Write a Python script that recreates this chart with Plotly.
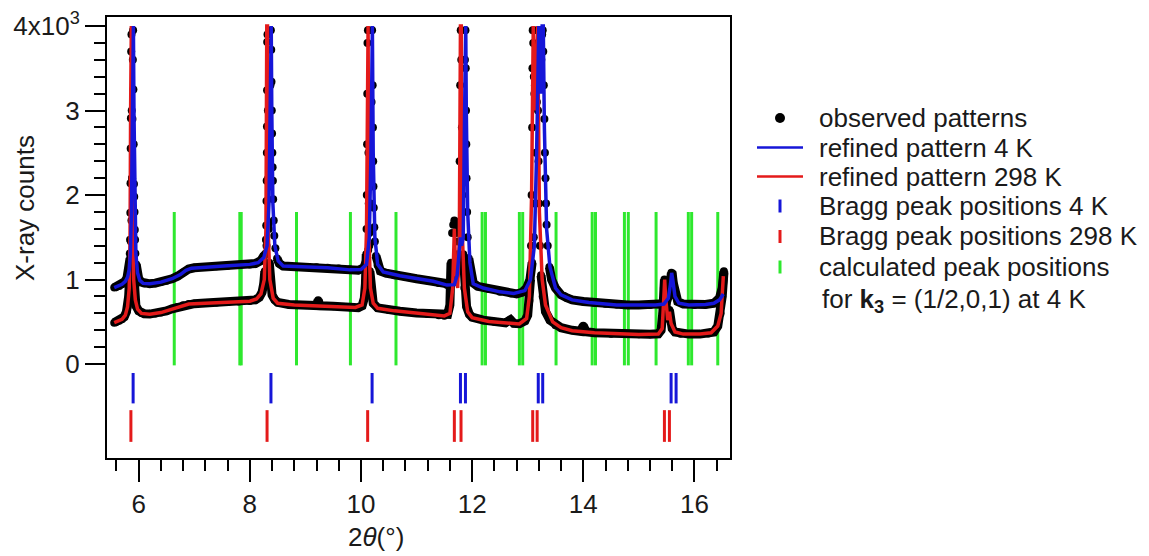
import plotly.graph_objects as go

# ---------------- data ----------------
# refined pattern, 4 K (blue)
ref4_x = [5.56, 5.62, 5.70, 5.76, 5.80, 5.83, 5.85, 5.87, 5.885, 5.895, 5.905, 5.915, 5.93, 5.95, 5.98, 6.02, 6.08,
          6.2, 6.4, 6.6, 6.75, 6.85, 6.95, 7.2, 7.6, 8.0, 8.15, 8.25, 8.31, 8.345, 8.365, 8.375, 8.385, 8.395,
          8.415, 8.45, 8.51, 8.6, 8.9, 9.4, 9.8, 10.0, 10.1, 10.15, 10.18, 10.195, 10.205, 10.22, 10.25, 10.3,
          10.4, 10.7, 11.0, 11.3, 11.55, 11.68, 11.73, 11.77, 11.79, 11.81, 11.84, 11.865, 11.875, 11.885,
          11.895, 11.92, 11.96, 12.02, 12.2, 12.5, 12.75, 12.95, 13.05, 13.12, 13.16, 13.185, 13.2, 13.23,
          13.26, 13.28, 13.30, 13.34, 13.40, 13.5, 13.6, 13.8, 14.1, 14.6, 15.0, 15.3, 15.45, 15.53, 15.57,
          15.59, 15.61, 15.65, 15.72, 15.9, 16.2, 16.35, 16.45, 16.52]
ref4_y = [905, 920, 945, 980, 1030, 1120, 1300, 1800, 3000, 4000, 4000, 3000, 1800, 1300, 1080, 990, 955,
          950, 970, 1010, 1060, 1110, 1135, 1150, 1165, 1180, 1200, 1260, 1400, 1900, 3000, 4000, 4000, 3000,
          1900, 1400, 1220, 1160, 1150, 1140, 1115, 1120, 1180, 1500, 2500, 4000, 4000, 2500, 1500, 1180,
          1090, 1045, 1010, 980, 935, 940, 1050, 1400, 1500, 1400, 1500, 3000, 4000, 4000,
          3000, 1800, 1200, 950, 900, 855, 835, 870, 1000, 1400, 2500, 4000, 4000, 3200,
          4000, 4000, 2800, 1600, 1150, 900, 820, 760, 730, 700, 695, 700, 710, 780, 950,
          1080, 1000, 800, 720, 700, 705, 720, 760, 830]

# refined pattern, 298 K (red)
ref298_x = [5.56, 5.62, 5.70, 5.76, 5.80, 5.83, 5.845, 5.855, 5.86, 5.868, 5.875, 5.89, 5.91, 5.94, 5.98, 6.05,
            6.2, 6.4, 6.6, 6.8, 6.9, 7.2, 7.6, 8.0, 8.12, 8.2, 8.26, 8.29, 8.305, 8.318, 8.33, 8.36, 8.42, 8.5,
            8.8, 9.2, 9.6, 9.9, 10.02, 10.07, 10.1, 10.115, 10.128, 10.14, 10.17, 10.22, 10.3, 10.6, 11.0, 11.3,
            11.5, 11.6, 11.65, 11.68, 11.70, 11.74, 11.77, 11.79, 11.805, 11.82, 11.86, 11.92, 12.0, 12.3, 12.6,
            12.85, 12.98, 13.03, 13.07, 13.085, 13.10, 13.13, 13.165, 13.18, 13.21, 13.26, 13.32, 13.45, 13.6,
            13.8, 14.2, 14.6, 15.0, 15.35, 15.42, 15.45, 15.465, 15.48, 15.52, 15.55, 15.58, 15.65, 15.8, 16.1,
            16.3, 16.42, 16.48, 16.52]
ref298_y = [490, 505, 530, 580, 680, 900, 1500, 3000, 4000, 4000, 3000, 1600, 1000, 760, 650, 600,
            590, 610, 650, 690, 710, 720, 735, 745, 770, 830, 1000, 1600, 4000, 4000, 1600, 1000, 780, 720,
            700, 690, 680, 670, 700, 900, 1600, 4000, 4000, 1600, 900, 720, 660, 630, 605, 585,
            570, 600, 900, 1600, 1200, 900, 1500, 4000, 4000, 1600, 900, 620, 550, 505, 485,
            475, 540, 800, 2000, 4000, 4000, 3000, 4000, 4000, 1800, 1000, 700, 500, 430,
            395, 370, 355, 350, 355, 420, 800, 1000, 800, 520, 620, 480, 380, 355, 355,
            370, 450, 600, 1040]

# observed pattern, 4 K
obs4_x = [5.56, 5.60, 5.65, 5.70, 5.75, 5.79, 5.82, 5.845, 5.86, 5.87, 5.88, 5.888, 5.895, 5.90, 5.905, 5.91,
          5.915, 5.92, 5.925, 5.93, 5.935, 5.94, 5.955, 5.97, 6.0, 6.05, 6.1, 6.2, 6.3, 6.4, 6.5, 6.6, 6.7,
          6.8, 6.9, 7.0, 7.2, 7.4, 7.6, 7.8, 8.0, 8.1, 8.2, 8.26, 8.30, 8.33, 8.35, 8.36, 8.37, 8.378, 8.385,
          8.39, 8.395, 8.40, 8.405, 8.41, 8.415, 8.42, 8.43, 8.44, 8.46, 8.49, 8.53, 8.6, 8.8, 9.0, 9.2, 9.4,
          9.6, 9.8, 9.95, 10.05, 10.1, 10.13, 10.15, 10.17, 10.18, 10.19, 10.20, 10.21, 10.215, 10.22, 10.225,
          10.23, 10.24, 10.25, 10.27, 10.3, 10.35, 10.45, 10.6, 10.8, 11.0, 11.2, 11.4, 11.55, 11.62, 11.68,
          11.72, 11.74, 11.76, 11.78, 11.80, 11.83, 11.85, 11.86, 11.87, 11.88, 11.885, 11.89, 11.895, 11.90,
          11.91, 11.92, 11.94, 11.97, 12.02, 12.1, 12.3, 12.5, 12.7, 12.8, 12.9, 12.98, 13.04, 13.08, 13.11,
          13.13, 13.15, 13.165, 13.18, 13.19, 13.20, 13.215, 13.23, 13.245, 13.26, 13.27, 13.28, 13.29, 13.30,
          13.31, 13.32, 13.33, 13.34, 13.36, 13.39, 13.43, 13.5, 13.6, 13.7, 13.8, 14.0, 14.2, 14.4, 14.6,
          14.8, 15.0, 15.2, 15.35, 15.45, 15.5, 15.54, 15.57, 15.585, 15.60, 15.62, 15.65, 15.7, 15.8, 16.0,
          16.2, 16.35, 16.45, 16.50, 16.53]
obs4_y = [905, 915, 925, 945, 975, 1020, 1100, 1250, 1450, 1700, 2200, 2900, 3600, 3950, 3250, 2600,
          2130, 1980, 1800, 1590, 1470, 1310, 1180, 1090, 1010, 970, 955, 950, 958, 970, 985, 1010, 1040,
          1085, 1125, 1140, 1150, 1158, 1165, 1172, 1180, 1190, 1225, 1290, 1400, 1650, 2100, 2700, 3300, 3950, 3720,
          3340, 3000, 2730, 2500, 2330, 2170, 1950, 1700, 1520, 1370, 1250, 1190, 1160, 1150, 1148, 1145, 1140,
          1130, 1118, 1110, 1140, 1220, 1350, 1550, 1900, 2400, 3100, 3950, 3300, 2800, 2400, 2100,
          1850, 1620, 1450, 1280, 1170, 1100, 1075, 1050, 1030, 1010, 990, 960, 935, 945, 1000,
          1200, 1450, 1600, 1650, 1700, 1800, 2400, 3000, 3600, 3950, 3500, 3000, 2600, 2200,
          1800, 1500, 1250, 1050, 960, 920, 890, 855, 835, 830, 850, 900, 1000, 1200, 1500,
          1900, 2500, 3100, 3700, 3950, 3800, 3500, 3400, 3600, 3900, 3950, 3700, 3300, 2900,
          2500, 2200, 1900, 1650, 1400, 1150, 1000, 900, 820, 785, 760, 740, 725, 715, 705,
          700, 698, 700, 705, 715, 740, 820, 980, 1080, 1070, 960, 820, 740, 710, 700,
          705, 720, 780, 900, 1100]

# observed pattern, 298 K
obs298_x = [5.56, 5.60, 5.65, 5.70, 5.74, 5.78, 5.80, 5.82, 5.835, 5.84, 5.845, 5.85, 5.853, 5.856, 5.86, 5.865,
            5.87, 5.875, 5.88, 5.885, 5.89, 5.90, 5.92, 5.95, 6.0, 6.05, 6.1, 6.2, 6.3, 6.4, 6.5, 6.6, 6.7, 6.8,
            6.9, 7.0, 7.2, 7.4, 7.6, 7.8, 8.0, 8.1, 8.17, 8.22, 8.25, 8.27, 8.285, 8.29, 8.295, 8.30, 8.303,
            8.306, 8.308, 8.31, 8.312, 8.318, 8.325, 8.33, 8.34, 8.35, 8.37, 8.40, 8.45, 8.5, 8.7, 9.0, 9.2,
            9.23, 9.26, 9.5, 9.8, 9.95, 10.02, 10.06, 10.08, 10.095, 10.10, 10.105, 10.11, 10.113, 10.117,
            10.125, 10.13, 10.135, 10.14, 10.15, 10.16, 10.18, 10.22, 10.3, 10.5, 10.7, 11.0, 11.2, 11.4, 11.5,
            11.56, 11.6, 11.62, 11.64, 11.66, 11.68, 11.70, 11.72, 11.74, 11.76, 11.775, 11.785, 11.795, 11.805,
            11.815, 11.825, 11.84, 11.86, 11.9, 11.95, 12.0, 12.2, 12.4, 12.6, 12.69, 12.75, 12.85, 12.95,
            13.0, 13.03, 13.05, 13.06, 13.07, 13.08, 13.085, 13.09, 13.10, 13.11, 13.12, 13.13, 13.15, 13.165,
            13.175, 13.185, 13.195, 13.205, 13.22, 13.24, 13.27, 13.32, 13.4, 13.5, 13.6, 13.8, 13.95, 14.0,
            14.05, 14.2, 14.5, 14.8, 15.0, 15.2, 15.35, 15.40, 15.43, 15.45, 15.46, 15.47, 15.49, 15.51, 15.53,
            15.55, 15.57, 15.6, 15.65, 15.75, 15.9, 16.1, 16.25, 16.35, 16.42, 16.47, 16.50, 16.53]
obs298_y = [490, 500, 512, 530, 560, 620, 680, 800, 1000, 1310, 1470, 1790, 2140, 2550, 2910, 3700,
            3900, 3000, 2200, 1700, 1300, 1000, 800, 690, 630, 605, 595, 592, 600, 612, 630, 655, 675, 695,
            710, 715, 722, 728, 735, 740, 748, 760, 790, 850, 950, 1100, 1310, 1470, 1640, 1930, 2170,
            2500, 2810, 3240, 3810, 3900, 3000, 2200, 1600, 1200, 950, 820, 760, 730, 705, 698, 692,
            757, 690, 685, 672, 668, 690, 780, 950, 1300, 1600, 2000, 2600, 3200, 3800,
            3950, 3200, 2500, 1900, 1400, 1100, 850, 720, 665, 640, 625, 605, 592, 578, 572,
            590, 700, 1200, 1550, 1650, 1700, 1650, 1550, 1300, 1600, 2400, 3300, 3950, 3600,
            2800, 2000, 1300, 900, 680, 590, 555, 520, 500, 488, 525, 482, 478, 510,
            580, 750, 1000, 1400, 2000, 2800, 3500, 3950, 3800, 3400, 3200, 3300, 3700, 3950,
            3700, 3000, 2400, 1900, 1400, 1050, 800, 620, 520, 460, 430, 400, 388, 455,
            383, 372, 360, 355, 352, 352, 358, 400, 600, 900, 1000, 950, 700, 540, 560,
            640, 520, 420, 380, 360, 355, 355, 362, 380, 450, 600, 800, 1080]

# peak positions (2theta, degrees)
bragg4_pos = [5.90, 8.38, 10.20, 11.79, 11.88, 13.19, 13.27, 15.58, 15.67]
bragg298_pos = [5.86, 8.31, 10.12, 11.68, 11.80, 13.09, 13.17, 15.46, 15.55]
calc_pos = [6.64, 7.82, 7.845, 8.84, 9.81, 10.63, 12.18, 12.24, 12.85, 12.91, 13.51, 14.16, 14.22,
            14.74, 14.81, 15.31, 15.89, 15.95, 16.42]

x_major = [6, 8, 10, 12, 14, 16]
y_major = [0, 1000, 2000, 3000, 4000]
y_labels = ["0", "1", "2", "3", "4x10<sup>3</sup>"]

legend_labels = ["observed patterns", "refined pattern 4 K", "refined pattern 298 K",
                 "Bragg peak positions 4 K", "Bragg peak positions 298 K",
                 "calculated peak positions", "for <b>k<sub>3</sub></b> = (1/2,0,1) at 4 K"]

# ---------------- styling ----------------
BLUE = "#1616d8"
RED = "#e41a1a"
GREEN = "#2ee82e"
FONT = "Liberation Sans, Arial, sans-serif"
TXT = "#1a1a1a"
FS = 26

# the page body adds an 8 px margin, so work in page pixels minus 8
OFF = 8
W, H = 1149 - OFF, 556 - OFF
L, R, T, B = 107 - OFF, 730 - OFF, 17 - OFF, 458 - OFF   # plot frame


def px_x(p):  # page pixel -> paper x
    return (p - OFF - L) / (R - L)


def px_y(p):  # page pixel -> paper y
    return (B - (p - OFF)) / (B - T)


def segs(xs, y0, y1):
    sx, sy = [], []
    for v in xs:
        sx += [v, v, None]
        sy += [y0, y1, None]
    return sx, sy


fig = go.Figure()

gx, gy = segs(calc_pos, -15, 1800)
fig.add_trace(go.Scatter(x=gx, y=gy, mode="lines", line=dict(color=GREEN, width=3),
                         showlegend=False, hoverinfo="skip"))
bx, by = segs(bragg4_pos, -105, -465)
fig.add_trace(go.Scatter(x=bx, y=by, mode="lines", line=dict(color=BLUE, width=3),
                         showlegend=False, hoverinfo="skip"))
rx, ry = segs(bragg298_pos, -545, -920)
fig.add_trace(go.Scatter(x=rx, y=ry, mode="lines", line=dict(color=RED, width=3),
                         showlegend=False, hoverinfo="skip"))

# observed: dense black band along the slow parts, single dots on the steep peak flanks
for ox, oy in ((obs298_x, obs298_y), (obs4_x, obs4_y)):
    band_y = [v if v <= 1300 else None for v in oy]
    fig.add_trace(go.Scatter(x=ox, y=band_y, mode="lines", line=dict(color="black", width=9),
                             showlegend=False, hoverinfo="skip", connectgaps=False))
fig.add_trace(go.Scatter(x=obs298_x + [None] + obs4_x, y=obs298_y + [None] + obs4_y, mode="markers",
                         marker=dict(color="black", size=8), name="observed patterns", showlegend=False))

fig.add_trace(go.Scatter(x=ref298_x, y=ref298_y, mode="lines", line=dict(color=RED, width=3.5),
                         name="refined pattern 298 K", showlegend=False))
fig.add_trace(go.Scatter(x=ref4_x, y=ref4_y, mode="lines", line=dict(color=BLUE, width=3.5),
                         name="refined pattern 4 K", showlegend=False))

# ---------------- hand-placed legend ----------------
row_y = [118, 147.5, 176.5, 206, 236.5, 267, 300]
sym_x = 780
text_x = 817
shapes = [
    dict(type="circle", xref="paper", yref="paper", x0=px_x(sym_x - 5), x1=px_x(sym_x + 5),
         y0=px_y(row_y[0] + 5), y1=px_y(row_y[0] - 5), fillcolor="black", line=dict(width=0)),
    dict(type="line", xref="paper", yref="paper", x0=px_x(757), x1=px_x(803),
         y0=px_y(row_y[1]), y1=px_y(row_y[1]), line=dict(color=BLUE, width=2.5)),
    dict(type="line", xref="paper", yref="paper", x0=px_x(757), x1=px_x(803),
         y0=px_y(row_y[2]), y1=px_y(row_y[2]), line=dict(color=RED, width=2.5)),
]
for i, col in ((3, BLUE), (4, RED), (5, GREEN)):
    shapes.append(dict(type="line", xref="paper", yref="paper", x0=px_x(sym_x), x1=px_x(sym_x),
                       y0=px_y(row_y[i] - 6.5), y1=px_y(row_y[i] + 6.5), line=dict(color=col, width=3)))

annotations = []
for i, lab in enumerate(legend_labels):
    annotations.append(dict(text=lab, xref="paper", yref="paper", x=px_x(text_x + (3 if i == 6 else 0)),
                            y=px_y(row_y[i]), showarrow=False, xanchor="left", yanchor="middle",
                            font=dict(size=FS, color=TXT)))
annotations += [
    dict(text="X-ray counts", textangle=-90, xref="paper", yref="paper", x=px_x(25), y=px_y(208),
         showarrow=False, font=dict(size=FS, color=TXT), xanchor="center", yanchor="middle"),
    dict(text="2<i>θ</i>(°)", xref="paper", yref="paper", x=px_x(376), y=px_y(537),
         showarrow=False, font=dict(size=FS, color=TXT), xanchor="center", yanchor="middle"),
]

x_minor = [round(5.6 + 0.4 * i, 1) for i in range(28)]
y_minor = [200 * i for i in range(21)]

fig.update_layout(
    width=W, height=H,
    margin=dict(l=L, r=W - R, t=T, b=H - B, autoexpand=False),
    paper_bgcolor="white", plot_bgcolor="white",
    font=dict(family=FONT, size=FS, color=TXT),
    showlegend=False,
    xaxis=dict(range=[5.43, 16.64], automargin=False, showgrid=False, zeroline=False, showline=True,
               linecolor="black", linewidth=2, mirror=True, ticks="outside", ticklen=22, tickwidth=2,
               tickcolor="black", tickmode="array", tickvals=x_major, ticktext=[str(v) for v in x_major],
               tickfont=dict(size=FS, color=TXT),
               minor=dict(tickmode="array", tickvals=x_minor, ticks="outside", ticklen=11, tickwidth=2,
                          tickcolor="black")),
    yaxis=dict(range=[-1111, 4107], automargin=False, showgrid=False, zeroline=False, showline=True,
               linecolor="black", linewidth=2, mirror=True, ticks="outside", ticklen=20, tickwidth=2,
               tickcolor="black", tickmode="array", tickvals=y_major, ticktext=y_labels,
               tickfont=dict(size=FS, color=TXT),
               minor=dict(tickmode="array", tickvals=y_minor, ticks="outside", ticklen=11, tickwidth=2,
                          tickcolor="black")),
    shapes=shapes,
    annotations=annotations,
)

fig.write_html("out.html")
